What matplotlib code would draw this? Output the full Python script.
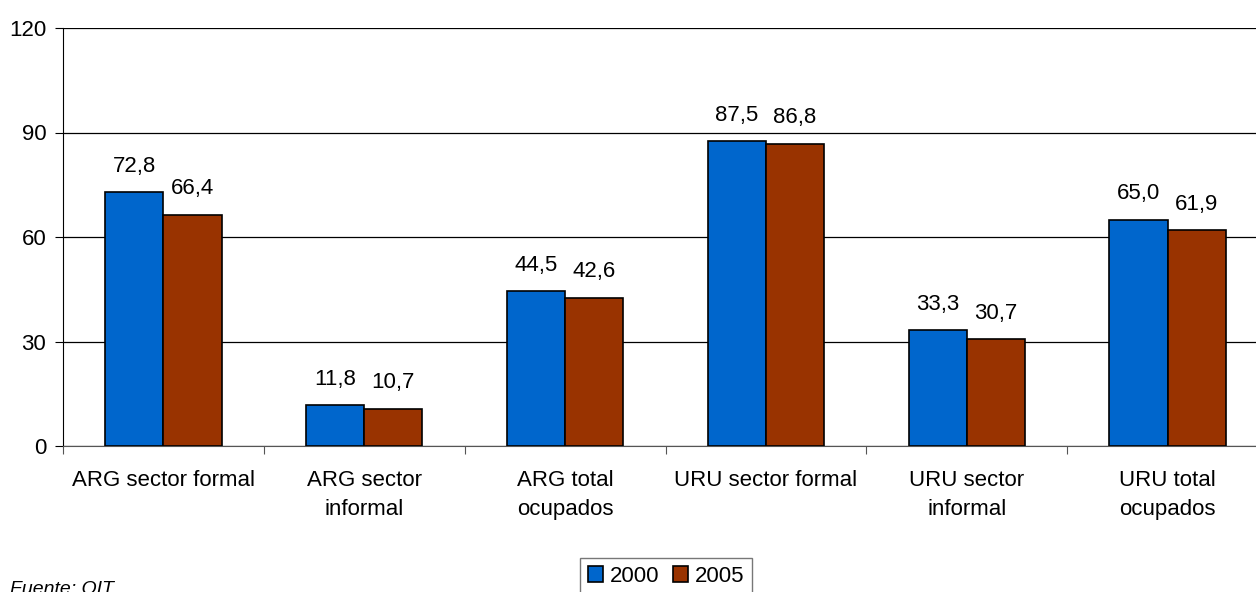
import matplotlib.pyplot as plt
import numpy as np

plt.rcParams['font.family'] = ['Liberation Sans', 'DejaVu Sans']

categorias = ["ARG sector formal", "ARG sector\ninformal", "ARG total\nocupados",
              "URU sector formal", "URU sector\ninformal", "URU total\nocupados"]
valores_2000 = [72.8, 11.8, 44.5, 87.5, 33.3, 65.0]
valores_2005 = [66.4, 10.7, 42.6, 86.8, 30.7, 61.9]
y_ticks = [0, 30, 60, 90, 120]

W, H = 1256, 592
fig = plt.figure(figsize=(W / 100, H / 100), dpi=100)
# el area del grafico sigue un poco mas alla del borde derecho
ax = fig.add_axes([63 / W, (H - 446) / H, (1268 - 63) / W, 418 / H])

x = np.arange(len(categorias))
ancho = 0.29
b1 = ax.bar(x - ancho / 2, valores_2000, ancho, color='#0066CC', edgecolor='black',
            linewidth=1.2, label='2000', zorder=3)
b2 = ax.bar(x + ancho / 2, valores_2005, ancho, color='#993300', edgecolor='black',
            linewidth=1.2, label='2005', zorder=3)

for barras in (b1, b2):
    for b in barras:
        v = b.get_height()
        ax.annotate(f"{v:.1f}".replace('.', ','), (b.get_x() + b.get_width() / 2, v),
                    xytext=(0, 11), textcoords='offset points', ha='center', va='bottom',
                    fontsize=16)

ax.set_xlim(-0.5, len(categorias) - 0.5)
ax.set_ylim(0, 120)
ax.set_yticks(y_ticks)
ax.tick_params(axis='y', labelsize=16, length=6, direction='out', pad=6)
ax.yaxis.grid(True, color='black', linewidth=0.9, zorder=0)

ax.set_xticks(np.arange(len(categorias) + 1) - 0.5)
ax.set_xticklabels([])
ax.set_xticks(x, minor=True)
ax.set_xticklabels(categorias, minor=True, fontsize=16, linespacing=1.55)
ax.tick_params(axis='x', which='major', length=6, color='#555555')
ax.tick_params(axis='x', which='minor', length=0, pad=17)

for s in ('top', 'right'):
    ax.spines[s].set_visible(False)
ax.spines['left'].set_color('black')
ax.spines['bottom'].set_color('#555555')

fig.legend(handles=[b1, b2], labels=['2000', '2005'], loc='upper center',
           bbox_to_anchor=(666 / W, 1 - 558 / H), ncol=2, fontsize=16, frameon=True,
           fancybox=False, edgecolor='#555555', handlelength=0.7, handleheight=0.7,
           handletextpad=0.3, columnspacing=0.6, borderpad=0.35, borderaxespad=0)

fig.text(10 / W, 1 - 589 / H, "Fuente: OIT", fontsize=14, style='italic', va='center')

fig.savefig("out.png", dpi=100)
